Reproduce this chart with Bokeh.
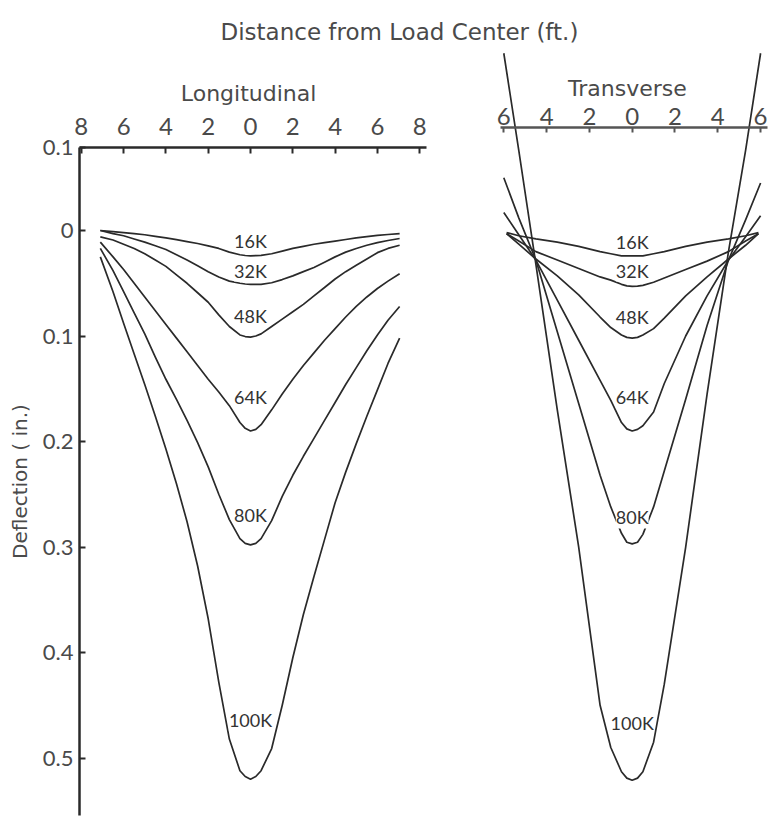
from bokeh.plotting import figure
from bokeh.models import Range1d, LinearAxis, FixedTicker, Label, LabelSet, ColumnDataSource
from bokeh.core.properties import value
from bokeh.embed import file_html
from bokeh.resources import INLINE

# ---------------- data ----------------
# Longitudinal: distance from load center (ft, negative = left side), deflection (in.)
long_x = [-7.1, -6.5, -6, -5.5, -5, -4.5, -4, -3.5, -3, -2.5, -2, -1.5, -1, -0.5, -0.25, 0,
          0.25, 0.5, 1, 1.5, 2, 2.5, 3, 3.5, 4, 4.5, 5, 5.5, 6, 6.5, 7.05]
long_16k = [0.000, 0.001, 0.002, 0.003, 0.004, 0.0055, 0.007, 0.0087, 0.0105, 0.0123, 0.0145, 0.017, 0.0205, 0.023, 0.0237, 0.024,
            0.0238, 0.0235, 0.022, 0.0195, 0.017, 0.015, 0.013, 0.0115, 0.010, 0.0085, 0.007, 0.0058, 0.0047, 0.0038, 0.003]
long_32k = [0.000, 0.003, 0.005, 0.008, 0.011, 0.0145, 0.018, 0.023, 0.028, 0.0335, 0.039, 0.044, 0.048, 0.050, 0.0507, 0.051,
            0.0511, 0.051, 0.0495, 0.0465, 0.043, 0.039, 0.035, 0.030, 0.025, 0.0205, 0.017, 0.014, 0.0115, 0.0095, 0.0076]
long_48k = [0.006, 0.009, 0.013, 0.017, 0.022, 0.028, 0.034, 0.042, 0.050, 0.059, 0.068, 0.080, 0.091, 0.099, 0.1005, 0.101,
            0.100, 0.098, 0.091, 0.084, 0.077, 0.070, 0.062, 0.054, 0.046, 0.039, 0.033, 0.027, 0.021, 0.017, 0.014]
long_64k = [0.011, 0.025, 0.037, 0.050, 0.063, 0.076, 0.089, 0.102, 0.115, 0.128, 0.141, 0.153, 0.166, 0.182, 0.1875, 0.190,
            0.1885, 0.184, 0.170, 0.155, 0.141, 0.128, 0.116, 0.104, 0.093, 0.082, 0.072, 0.063, 0.055, 0.048, 0.041]
long_80k = [0.017, 0.038, 0.058, 0.078, 0.098, 0.120, 0.141, 0.160, 0.180, 0.201, 0.224, 0.250, 0.274, 0.292, 0.2965, 0.298,
            0.2965, 0.292, 0.275, 0.252, 0.232, 0.214, 0.197, 0.180, 0.163, 0.146, 0.130, 0.114, 0.099, 0.085, 0.072]
long_100k = [0.025, 0.058, 0.088, 0.117, 0.146, 0.176, 0.207, 0.240, 0.276, 0.318, 0.368, 0.428, 0.482, 0.512, 0.5175, 0.520,
             0.5175, 0.512, 0.491, 0.450, 0.405, 0.364, 0.328, 0.293, 0.258, 0.229, 0.202, 0.176, 0.151, 0.126, 0.102]

# Transverse
trans_x_outer = [-6.0, -5.3, -4.5, -3.5, -2.5, -1.5, -1.0, -0.5, -0.25, 0, 0.25, 0.5, 1.0, 1.5, 2.5, 3.5, 4.5, 5.3, 6.0]
trans_x_inner = [-5.87, -5.3, -4.5, -3.5, -2.5, -1.5, -1.0, -0.5, -0.25, 0, 0.25, 0.5, 1.0, 1.5, 2.5, 3.5, 4.5, 5.3, 5.9]
trans_16k = [0.002, 0.005, 0.008, 0.011, 0.015, 0.020, 0.022, 0.024, 0.024, 0.024, 0.024, 0.024, 0.022, 0.020, 0.015, 0.011, 0.008, 0.005, 0.002]
trans_32k = [0.003, 0.010, 0.020, 0.028, 0.036, 0.044, 0.047, 0.051, 0.0525, 0.053, 0.0528, 0.052, 0.049, 0.045, 0.037, 0.029, 0.020, 0.010, 0.003]
trans_48k = [0.003, 0.013, 0.027, 0.043, 0.061, 0.082, 0.092, 0.099, 0.1013, 0.102, 0.1013, 0.099, 0.093, 0.083, 0.062, 0.044, 0.027, 0.014, 0.003]
trans_64k = [-0.017, 0.004, 0.028, 0.066, 0.104, 0.142, 0.161, 0.182, 0.188, 0.190, 0.1885, 0.185, 0.172, 0.145, 0.100, 0.062, 0.028, 0.006, -0.014]
trans_80k = [-0.050, -0.012, 0.028, 0.096, 0.164, 0.232, 0.262, 0.287, 0.2955, 0.297, 0.2955, 0.288, 0.262, 0.228, 0.160, 0.090, 0.028, -0.010, -0.045]
trans_100k = [-0.168, -0.076, 0.032, 0.170, 0.300, 0.450, 0.490, 0.513, 0.519, 0.521, 0.519, 0.513, 0.485, 0.430, 0.300, 0.155, 0.020, -0.076, -0.168]

load_names = ["16K", "32K", "48K", "64K", "80K", "100K"]
long_label_depth = [0.0095, 0.038, 0.081, 0.158, 0.270, 0.464]
trans_label_depth = [0.011, 0.038, 0.082, 0.158, 0.272, 0.467]

long_ticks = [-8, -6, -4, -2, 0, 2, 4, 6, 8]
long_tick_labels = ["8", "6", "4", "2", "0", "2", "4", "6", "8"]
trans_ticks = [-6, -4, -2, 0, 2, 4, 6]
trans_tick_labels = ["6", "4", "2", "0", "2", "4", "6"]
defl_ticks = [-0.0787, 0.0, 0.1, 0.2, 0.3, 0.4, 0.5]
defl_tick_labels = ["0.1", "0", "0.1", "0.2", "0.3", "0.4", "0.5"]

# ---------------- figure ----------------
FONT = "Lato"
TFONT = "DejaVu Sans"
INK = "#2a2a2a"
TXT = "#4a4a4a"

p = figure(width=768, height=820, output_backend="svg", toolbar_location=None,
           tools="", title=None,
           x_range=Range1d(-11.82, 24.49), y_range=Range1d(0.5592, -0.2180),
           x_axis_location="above", y_axis_location="left",
           min_border=0, outline_line_color=None)
p.extra_x_ranges = {"trans": Range1d(-29.52, 6.37)}
p.grid.visible = False
p.background_fill_color = "white"

# left (deflection) axis
ya = p.yaxis[0]
ya.fixed_location = -8.085
ya.bounds = (-0.0787, 0.554)
ya.ticker = FixedTicker(ticks=defl_ticks)
ya.major_label_overrides = dict(zip(defl_ticks, defl_tick_labels))
ya.minor_tick_line_color = None
ya.major_tick_in = 6
ya.major_tick_out = 0
ya.axis_line_width = 2.5
ya.axis_line_color = INK
ya.major_tick_line_color = INK
ya.major_tick_line_width = 2
ya.major_label_text_font = FONT
ya.major_label_text_font_size = "22px"
ya.major_label_text_color = TXT
ya.major_label_standoff = 6
ya.axis_label = "Deflection ( in.)"
ya.axis_label_text_font = TFONT
ya.axis_label_text_font_size = "20px"
ya.axis_label_text_font_style = "normal"
ya.axis_label_text_color = TXT
ya.axis_label_standoff = 8

# longitudinal distance axis (top)
xa = p.xaxis[0]
xa.fixed_location = -0.0787
xa.bounds = (-8.085, 8.3)
xa.ticker = FixedTicker(ticks=long_ticks)
xa.major_label_overrides = dict(zip(long_ticks, long_tick_labels))
xa.minor_tick_line_color = None
xa.major_tick_in = 6
xa.major_tick_out = 0
xa.axis_line_width = 2.5
xa.axis_line_color = INK
xa.major_tick_line_color = INK
xa.major_tick_line_width = 2
xa.major_label_text_font = FONT
xa.major_label_text_font_size = "24px"
xa.major_label_text_color = TXT
xa.major_label_standoff = 12

# transverse distance axis (top)
ta = LinearAxis(x_range_name="trans", fixed_location=-0.0973, bounds=(-6.15, 6.32),
                ticker=FixedTicker(ticks=trans_ticks),
                major_label_overrides=dict(zip(trans_ticks, trans_tick_labels)))
ta.minor_tick_line_color = None
ta.major_tick_in = 5
ta.major_tick_out = 0
ta.axis_line_width = 2.5
ta.axis_line_color = "#555555"
ta.major_tick_line_color = "#555555"
ta.major_tick_line_width = 2
ta.major_label_text_font = FONT
ta.major_label_text_font_size = "24px"
ta.major_label_text_color = TXT
ta.major_label_standoff = 3
p.add_layout(ta, "above")

# curves
long_series = [long_16k, long_32k, long_48k, long_64k, long_80k, long_100k]
for ys in long_series:
    p.line(long_x, ys, line_color=INK, line_width=1.7, line_join="round")

trans_series = [(trans_x_inner, trans_16k), (trans_x_inner, trans_32k), (trans_x_inner, trans_48k),
                (trans_x_outer, trans_64k), (trans_x_outer, trans_80k), (trans_x_outer, trans_100k)]
for xs, ys in trans_series:
    p.line(xs, ys, line_color=INK, line_width=1.7, line_join="round", x_range_name="trans")

# load labels
long_src = ColumnDataSource(dict(x=[0.0] * len(load_names), y=long_label_depth, t=load_names))
trans_src = ColumnDataSource(dict(x=[0.0] * len(load_names), y=trans_label_depth, t=load_names))
common = dict(text="t", text_align="center", text_baseline="middle",
              text_font=value(FONT), text_font_size="18px", text_color="#333333",
              background_fill_color="white", background_fill_alpha=1.0)
p.add_layout(LabelSet(x="x", y="y", source=long_src, **common))
p.add_layout(LabelSet(x="x", y="y", source=trans_src, x_range_name="trans", **common))

# titles
p.add_layout(Label(x=7.04, y=-0.1877, text="Distance from Load Center (ft.)",
                   text_align="center", text_baseline="middle", text_font=TFONT,
                   text_font_size="23px", text_color=TXT))
p.add_layout(Label(x=-0.09, y=-0.130, text="Longitudinal",
                   text_align="center", text_baseline="middle", text_font=TFONT,
                   text_font_size="22px", text_color=TXT))
p.add_layout(Label(x=-0.22, y=-0.1346, x_range_name="trans", text="Transverse",
                   text_align="center", text_baseline="middle", text_font=TFONT,
                   text_font_size="22px", text_color=TXT))

open("out.html", "w").write(file_html(p, INLINE))
